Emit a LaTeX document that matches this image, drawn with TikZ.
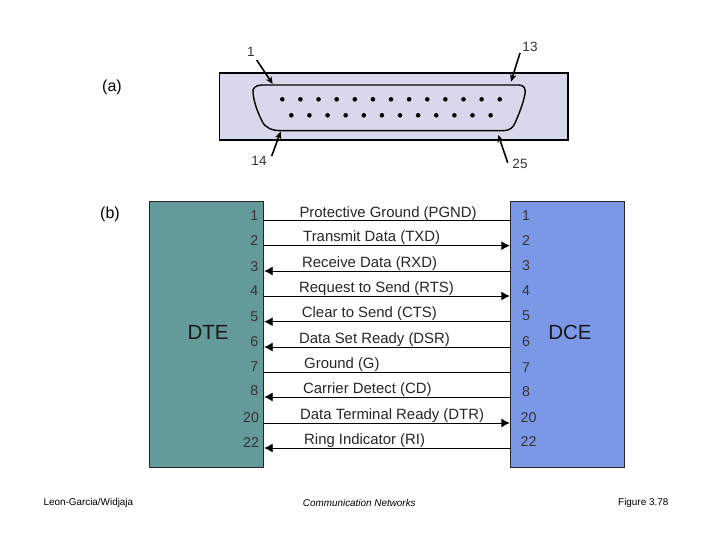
\documentclass[tikz,border=0pt]{standalone}
\usepackage{fontspec}
\setmainfont{Liberation Sans}
\usetikzlibrary{arrows.meta}
\definecolor{dtec}{HTML}{659A9A}
\definecolor{dcec}{HTML}{7B98E6}
\definecolor{connc}{HTML}{D8D8EC}
\tikzset{
  wire/.style={line width=0.9pt,black},
  sigfwd/.style={wire,-{Latex[length=8.5pt,width=9pt]}},
  ptr/.style={line width=1.6pt,-{Stealth[length=7.5pt,width=6.5pt]}},
  pinlab/.style={inner sep=0pt,font=\fontsize{14.2}{16}\selectfont,text=black!80},
  conlab/.style={inner sep=0pt,font=\fontsize{13.5}{15}\selectfont,text=black!80},
  siglab/.style={inner sep=0pt,anchor=west,font=\fontsize{14.9}{17}\selectfont,text=black!85},
  biglab/.style={inner sep=0pt,font=\fontsize{20.5}{23}\selectfont,text=black!90},
  sidelab/.style={inner sep=0pt,font=\fontsize{16}{18}\selectfont},
  smalllab/.style={inner sep=0pt,font=\fontsize{9.9}{11}\selectfont},
  blockbox/.style={draw=black!85,line width=0.9pt,minimum width=114.5pt,minimum height=265.5pt,inner sep=0pt},
  pindot/.style={circle,fill=black,inner sep=0pt,minimum size=4.6pt}
}
\begin{document}
\begin{tikzpicture}[x=1pt,y=-1pt]
\useasboundingbox (0,0) rectangle (720,540);
% connector plate and shell
\node[draw=black,line width=1.4pt,fill=connc,minimum width=348.5pt,minimum height=67pt,inner sep=0pt] (plate) at (393.7,106.7) {};
\draw[line width=1.4pt] (262,85) -- (519,85)
  .. controls (524,85) and (526,89) .. (525,94)
  .. controls (523,104) and (519,114) .. (515,123)
  .. controls (513,128) and (509,130.7) .. (503,130.7)
  -- (282,130.7)
  .. controls (272,130.7) and (265,128) .. (262,121)
  .. controls (257,111) and (254,102) .. (253,93)
  .. controls (252,88) and (256,85) .. (262,85) -- cycle;
\foreach \i in {0,...,12} \node[pindot] (top\i) at ({282.3+18.12*\i},99.3) {};
\foreach \i in {0,...,11} \node[pindot] (bot\i) at ({291.3+18.12*\i},115.3) {};
% connector labels and pointers
\node[conlab] (n1) at (251,51.5) {1};
\node[conlab] (n13) at (530,46.5) {13};
\node[conlab] (n14) at (259,160.5) {14};
\node[conlab] (n25) at (520,163.5) {25};
\coordinate (s1) at (256.7,60);   \coordinate (e1) at (272.7,84);
\coordinate (s13) at (520,53);    \coordinate (e13) at (511,81.7);
\coordinate (s14) at (271.7,156); \coordinate (e14) at (280.7,131.5);
\coordinate (s25) at (507.7,162.7); \coordinate (e25) at (498.3,135);
\draw[ptr] (s1) -- (e1);
\draw[ptr] (s13) -- (e13);
\draw[ptr] (s14) -- (e14);
\draw[ptr] (s25) -- (e25);
\node[sidelab] (la) at (112,87.5) {(a)};
\node[sidelab] (lb) at (110,214.5) {(b)};
% blocks
\node[blockbox,fill=dtec] (dte) at (206.5,334.5) {};
\node[blockbox,fill=dcec] (dce) at (567.5,334.5) {};
\node[biglab] (dtelab) at (208,332.5) {DTE};
\node[biglab] (dcelab) at (570,332.5) {DCE};
% pins and signals
\foreach \k/\pn/\lx/\rx/\ly/\ry/\wy/\tx/\ty/\txt/\dir in {
  a/1/254.3/526/216/216/220/299.3/213.5/Protective Ground (PGND)/n,
  b/2/254.3/526/240.5/241/245.7/303/238/Transmit Data (TXD)/r,
  c/3/254.3/526/267/266/271/302/263.5/Receive Data (RXD)/l,
  d/4/254.3/526/291/291/296/299/288.5/Request to Send (RTS)/r,
  e/5/254.3/526/317/316/321.7/301.7/314/Clear to Send (CTS)/l,
  f/6/254.3/526/342/342/347/299/340/Data Set Ready (DSR)/l,
  g/7/254.3/526/367/368/372/304/365/Ground (G)/n,
  h/8/254.3/526/391/392/397/303/390/Carrier Detect (CD)/l,
  i/20/251/528.5/418/418/423/300/416/Data Terminal Ready (DTR)/r,
  j/22/251/528.5/443/442/448/304/441/Ring Indicator (RI)/l}{
  \node[pinlab] (lp\k) at (\lx,\ly) {\pn};
  \node[pinlab] (rp\k) at (\rx,\ry) {\pn};
  \node[siglab] (sl\k) at (\tx,\ty) {\txt};
  \coordinate (wl\k) at (dte.east |- 0,\wy);
  \coordinate (wr\k) at (dce.west |- 0,\wy);
  \if\dir r
    \draw[sigfwd] (wl\k) -- (wr\k);
  \else\if\dir l
    \draw[sigfwd] (wr\k) -- (wl\k);
  \else
    \draw[wire] (wl\k) -- (wr\k);
  \fi\fi
}
% footer
\node[smalllab,anchor=west] (f1) at (43.3,502.5) {Leon-Garcia/Widjaja};
\node[smalllab,anchor=west,font=\fontsize{9.9}{11}\selectfont\itshape] (f2) at (302.7,503) {Communication Networks};
\node[smalllab,anchor=west] (f3) at (618,502.5) {Figure 3.78};
\end{tikzpicture}
\end{document}
